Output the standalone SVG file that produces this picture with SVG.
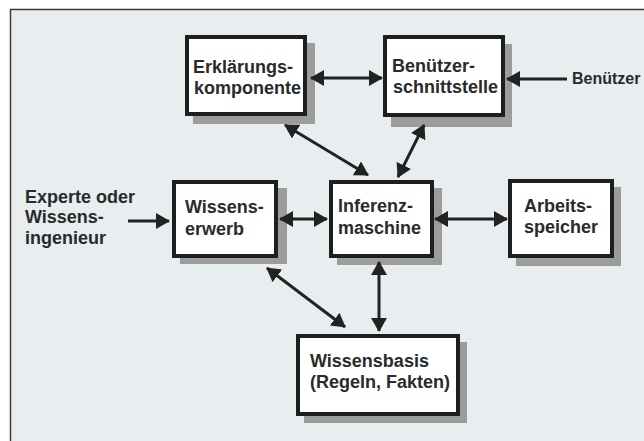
<svg xmlns="http://www.w3.org/2000/svg" width="644" height="441" viewBox="0 0 644 441">
<style>
.box{fill:#ffffff;stroke:#1e1e1e;stroke-width:4}
.shadow{fill:#9c9c9c}
.t{font-family:"Liberation Sans",Arial,sans-serif;font-weight:bold;font-size:18px;fill:#2a2a2a}
.lbl{font-family:"Liberation Sans",Arial,sans-serif;font-weight:bold;font-size:18px;fill:#2a2a2a}
.conn{stroke:#222;stroke-width:3;fill:none}
</style>
<defs>
<marker id="ah" viewBox="0 0 14 16" refX="13" refY="8" markerWidth="14" markerHeight="16" markerUnits="userSpaceOnUse" orient="auto-start-reverse">
<path d="M0,0 L14,8 L0,16 z" fill="#222"/>
</marker>
</defs>
<rect x="0" y="0" width="644" height="441" fill="#ffffff"/>
<rect x="11" y="10" width="633" height="431" fill="#e8eef0"/>
<path d="M10.5,441 V9.5 H644" fill="none" stroke="#3c3c3c" stroke-width="1.5"/>

<g id="erklaerungskomponente">
<rect class="shadow" x="193" y="43" width="122" height="81"/>
<rect class="box" x="187" y="37" width="118" height="77"/>
<text class="t" x="193" y="73">Erklärungs-</text>
<text class="t" x="194" y="94">komponente</text>
</g>
<g id="benutzerschnittstelle">
<rect class="shadow" x="391" y="44" width="121" height="83"/>
<rect class="box" x="385" y="37" width="118" height="78"/>
<text class="t" x="392" y="72">Benützer-</text>
<text class="t" x="393" y="93">schnittstelle</text>
</g>
<g id="wissenserwerb">
<rect class="shadow" x="180" y="188" width="107" height="76"/>
<rect class="box" x="174" y="182" width="102" height="74"/>
<text class="t" x="185" y="213">Wissens-</text>
<text class="t" x="185" y="235">erwerb</text>
</g>
<g id="inferenzmaschine">
<rect class="shadow" x="337" y="188" width="105" height="77"/>
<rect class="box" x="331" y="182" width="101" height="74"/>
<text class="t" x="338" y="212">Inferenz-</text>
<text class="t" x="338" y="234">maschine</text>
</g>
<g id="arbeitsspeicher">
<rect class="shadow" x="516" y="187" width="105" height="79"/>
<rect class="box" x="510" y="181" width="102" height="75"/>
<text class="t" x="524" y="212">Arbeits-</text>
<text class="t" x="524" y="233">speicher</text>
</g>
<g id="wissensbasis">
<rect class="shadow" x="304" y="342" width="163" height="81"/>
<rect class="box" x="298" y="336" width="160" height="78"/>
<text class="t" x="310" y="367">Wissensbasis</text>
<text class="t" x="310" y="388">(Regeln, Fakten)</text>
</g>
<g id="experte">
<text class="lbl" x="25" y="203">Experte oder</text>
<text class="lbl" x="25" y="223">Wissens-</text>
<text class="lbl" x="25" y="244">ingenieur</text>
</g>
<g id="benutzer">
<text class="lbl" x="572" y="84" style="font-size:16px">Benützer</text>
</g>

<g id="connectors">
<line class="conn" x1="311" y1="78" x2="382" y2="78" marker-start="url(#ah)" marker-end="url(#ah)"/>
<line class="conn" x1="567" y1="79" x2="507" y2="79" marker-end="url(#ah)"/>
<line class="conn" x1="285" y1="125" x2="368" y2="175" marker-start="url(#ah)" marker-end="url(#ah)"/>
<line class="conn" x1="424" y1="125" x2="398" y2="177" marker-start="url(#ah)" marker-end="url(#ah)"/>
<line class="conn" x1="128" y1="221" x2="169" y2="221" marker-end="url(#ah)"/>
<line class="conn" x1="280" y1="219" x2="327" y2="219" marker-start="url(#ah)" marker-end="url(#ah)"/>
<line class="conn" x1="435" y1="219" x2="507" y2="219" marker-start="url(#ah)" marker-end="url(#ah)"/>
<line class="conn" x1="267" y1="268" x2="345" y2="327" marker-start="url(#ah)" marker-end="url(#ah)"/>
<line class="conn" x1="379" y1="262" x2="379" y2="331" marker-start="url(#ah)" marker-end="url(#ah)"/>
</g>
</svg>
